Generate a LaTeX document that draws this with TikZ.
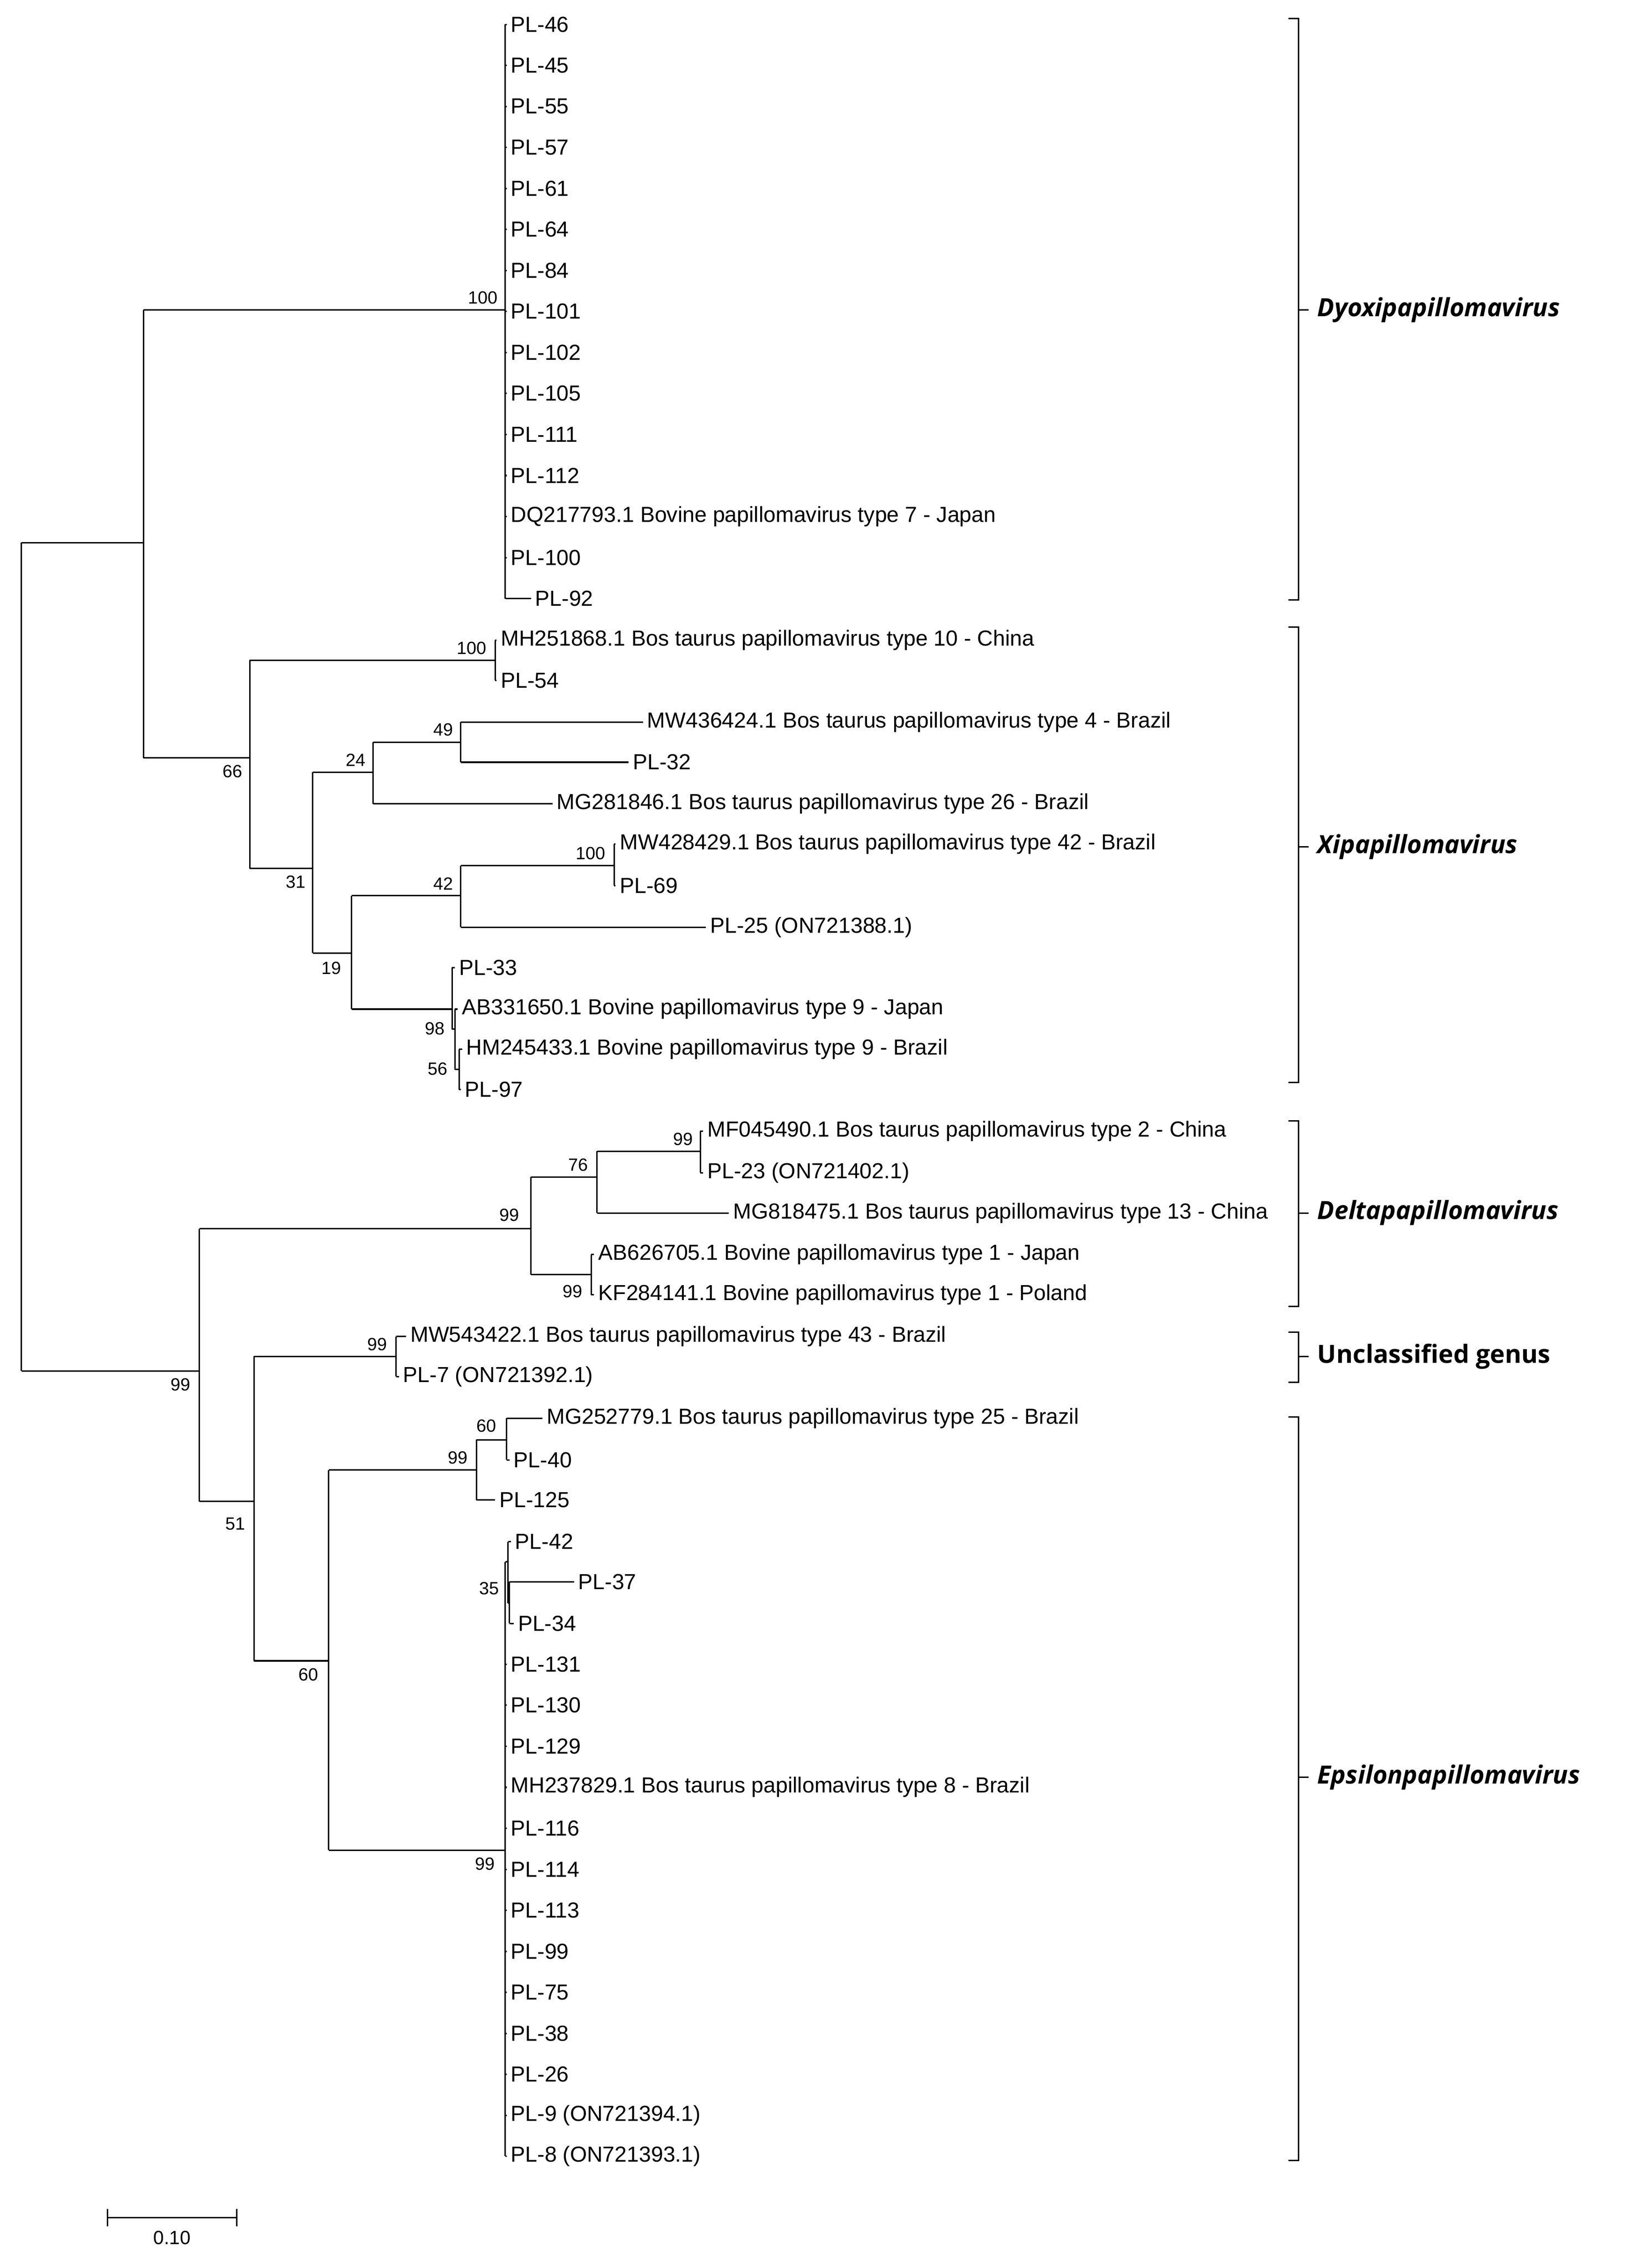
\documentclass[tikz,border=0pt]{standalone}
\usepackage{fontspec}
\setmainfont{Liberation Sans}
\newfontfamily\gf{Open Sans}
\begin{document}
\begin{tikzpicture}[x=0.6pt,y=-0.6pt,line width=0.6pt,
 lab/.style={anchor=west,inner sep=1.5pt,font=\fontsize{9.1}{10}\selectfont},
 bs/.style={font=\fontsize{7.4}{8}\selectfont,inner sep=1pt},
 gen/.style={anchor=west,font=\gf\bfseries\fontsize{10.5}{12}\selectfont}]
\useasboundingbox (0,0) rectangle (1140,1580);
\newcommand\lf[4]{\draw (#1,#3)--(#2,#3) node[lab]{#4};}
\newcommand\vl[3]{\draw (#1,#2)--(#1,#3);}
\newcommand\hl[3]{\draw (#1,#3)--(#2,#3);}
\newcommand\bv[3]{\node[bs,anchor=south east] at (#1,#2) {#3};}
\newcommand\bb[3]{\node[bs,anchor=north east] at (#1,#2) {#3};}
% root
\vl{15}{378}{955}
\hl{15}{100}{378}
\vl{100}{216}{528}
% Dyoxi
\hl{100}{352}{216}\vl{352}{17}{417}\bv{349}{214}{100}
\foreach \t [count=\i from 0] in {PL-46,PL-45,PL-55,PL-57,PL-61,PL-64,PL-84,PL-101,PL-102,PL-105,PL-111,PL-112,DQ217793.1 Bovine papillomavirus type 7 - Japan,PL-100}
 {\pgfmathsetmacro\yy{17+28.57*\i}\lf{352}{353}{\yy}{\t}}
\lf{352}{370}{417}{PL-92}
% Xi
\hl{100}{174}{528}\bb{171}{531}{66}
\vl{174}{460}{605}
\hl{174}{345}{460}\bv{341}{458}{100}\vl{345}{446}{474}
\lf{345}{346}{446}{MH251868.1 Bos taurus papillomavirus type 10 - China}
\lf{345}{346}{474}{PL-54}
\hl{174}{218}{605}\bb{215}{608}{31}
\vl{218}{538}{664}
\hl{218}{260}{538}\bv{257}{536}{24}\vl{260}{517}{560}
\hl{260}{321}{517}\bv{318}{515}{49}\vl{321}{503}{531}
\lf{321}{448}{503}{MW436424.1 Bos taurus papillomavirus type 4 - Brazil}
\lf{321}{438}{531}{PL-32}
\lf{260}{385}{560}{MG281846.1 Bos taurus papillomavirus type 26 - Brazil}
\hl{218}{245}{664}\bb{240}{668}{19}\vl{245}{624}{703}
\hl{245}{321}{624}\bv{318}{622}{42}\vl{321}{603}{646}
\hl{321}{428}{603}\bv{424}{601}{100}\vl{428}{588}{617}
\lf{428}{429}{588}{MW428429.1 Bos taurus papillomavirus type 42 - Brazil}
\lf{428}{429}{617}{PL-69}
\lf{321}{492}{646}{PL-25 (ON721388.1)}
\hl{245}{315}{703}\vl{315}{674}{717}
\lf{315}{317}{674}{PL-33}
\hl{315}{317}{717}\bb{312}{710}{98}\vl{317}{703}{745}
\lf{317}{319}{703}{AB331650.1 Bovine papillomavirus type 9 - Japan}
\hl{317}{320}{745}\bb{314}{738}{56}\vl{320}{731}{759}
\lf{320}{322}{731}{HM245433.1 Bovine papillomavirus type 9 - Brazil}
\lf{320}{321}{759}{PL-97}
% lower
\hl{15}{139}{955}\bb{135}{958}{99}
\vl{139}{856}{1046}
\hl{139}{370}{856}\bv{364}{853}{99}\vl{370}{820}{888}
\hl{370}{416}{820}\bv{412}{818}{76}\vl{416}{802}{845}
\hl{416}{488}{802}\bv{485}{800}{99}\vl{488}{788}{817}
\lf{488}{490}{788}{MF045490.1 Bos taurus papillomavirus type 2 - China}
\lf{488}{490}{817}{PL-23 (ON721402.1)}
\lf{416}{508}{845}{MG818475.1 Bos taurus papillomavirus type 13 - China}
\hl{370}{412}{888}\bb{408}{893}{99}\vl{412}{874}{902}
\lf{412}{414}{874}{AB626705.1 Bovine papillomavirus type 1 - Japan}
\lf{412}{414}{902}{KF284141.1 Bovine papillomavirus type 1 - Poland}
\hl{139}{177}{1046}\bb{173}{1055}{51}\vl{177}{945}{1157}
\hl{177}{276}{945}\bv{272}{943}{99}\vl{276}{931}{959}
\lf{276}{283}{931}{MW543422.1 Bos taurus papillomavirus type 43 - Brazil}
\lf{276}{278}{959}{PL-7 (ON721392.1)}
\hl{177}{229}{1157}\bb{224}{1160}{60}\vl{229}{1024}{1289}
\hl{229}{332}{1024}\bv{328}{1022}{99}\vl{332}{1003}{1045}
\hl{332}{353}{1003}\bv{348}{1000}{60}\vl{353}{988}{1017}
\lf{353}{378}{988}{MG252779.1 Bos taurus papillomavirus type 25 - Brazil}
\lf{353}{355}{1017}{PL-40}
\lf{332}{345}{1045}{PL-125}
\hl{229}{352}{1289}\bb{347}{1292}{99}\vl{352}{1088}{1502}
\hl{352}{354}{1088}\vl{354}{1074}{1117}
\lf{354}{356}{1074}{PL-42}
\hl{354}{355}{1117}\bb{350}{1100}{35}\vl{355}{1102}{1131}
\lf{355}{400}{1102}{PL-37}
\lf{355}{358}{1131}{PL-34}
\foreach \t [count=\i from 0] in {PL-131,PL-130,PL-129,MH237829.1 Bos taurus papillomavirus type 8 - Brazil,PL-116,PL-114,PL-113,PL-99,PL-75,PL-38,PL-26,PL-9 (ON721394.1),PL-8 (ON721393.1)}
 {\pgfmathsetmacro\yy{1159.4+28.57*\i}\lf{352}{353}{\yy}{\t}}
% scale bar
\draw (75,1545)--(165,1545) (75,1539)--(75,1551) (165,1539)--(165,1551);
\node[bs,font=\fontsize{8}{9}\selectfont] at (120,1559) {0.10};
% brackets
\newcommand\brk[4]{\draw (898,#1)--(905,#1)--(905,#2)--(898,#2) (905,#3)--(912,#3); \node[gen] at (912,#3) {#4};}
\brk{13}{418}{216}{\itshape Dyoxipapillomavirus}
\brk{437}{754}{590}{\itshape Xipapillomavirus}
\brk{781}{910}{845}{\itshape Deltapapillomavirus}
\brk{928}{963}{945}{Unclassified genus}
\brk{987}{1505}{1238}{\itshape Epsilonpapillomavirus}
\end{tikzpicture}
\end{document}
